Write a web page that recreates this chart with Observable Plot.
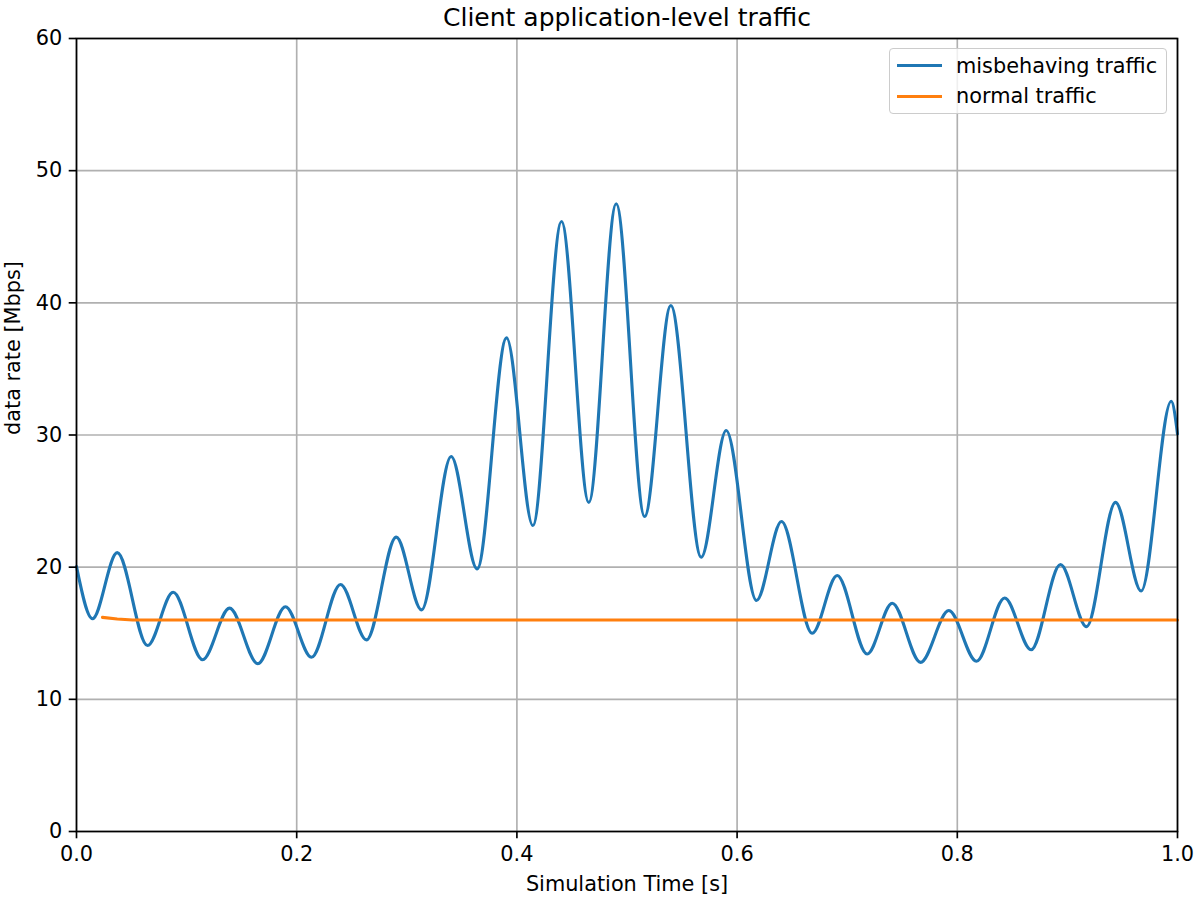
<!DOCTYPE html>
<html>
<head>
<meta charset="utf-8">
<script src="https://cdn.jsdelivr.net/npm/d3@7"></script>
<script src="https://cdn.jsdelivr.net/npm/@observablehq/plot@0.6"></script>
<style>
  html, body { margin: 0; padding: 0; background: #fff; }
  #wrap { position: relative; width: 1200px; height: 900px; font-family: "DejaVu Sans", sans-serif; }
  #legend { position: absolute; left: 889px; top: 48px; width: 278px; height: 66px;
    border: 1.5px solid #cccccc; border-radius: 4px; background: rgba(255,255,255,0.8); box-sizing: border-box; }
  .lg-line { position: absolute; left: 7px; width: 45px; height: 3.1px; }
  .lg-text { position: absolute; left: 66px; font-size: 20.83px; line-height: 24px; color: #000; white-space: nowrap; }
</style>
</head>
<body>
<div id="wrap"></div>
<script>
// ---- data ----
const title = "Client application-level traffic";
const xLabel = "Simulation Time [s]";
const yLabel = "data rate [Mbps]";
const seriesNames = ["misbehaving traffic", "normal traffic"];
const seriesColors = ["#1f77b4", "#ff7f0e"];

const xTicks = [0, 0.2, 0.4, 0.6, 0.8, 1.0];
const yTicks = [0, 10, 20, 30, 40, 50, 60];

// misbehaving traffic: local extrema
const misTime = [0, 0.0145, 0.037, 0.0645, 0.0878, 0.1145, 0.139, 0.1647, 0.1898, 0.2134,
  0.2398, 0.2634, 0.2904, 0.3134, 0.3403, 0.3639, 0.3906, 0.4145, 0.4405, 0.4653,
  0.4902, 0.516, 0.5398, 0.5674, 0.5901, 0.6176, 0.6403, 0.6682, 0.6909, 0.7181,
  0.7409, 0.7666, 0.7923, 0.8174, 0.843, 0.867, 0.8937, 0.9174, 0.9437, 0.967, 0.9943, 1.0];
const misRate = [20.05, 16.1, 21.1, 14.07, 18.1, 13.0, 16.9, 12.7, 17.0, 13.18,
  18.69, 14.5, 22.27, 16.77, 28.37, 19.87, 37.35, 23.15, 46.15, 24.9,
  47.5, 23.83, 39.8, 20.75, 30.34, 17.48, 23.45, 15.0, 19.37, 13.43,
  17.27, 12.8, 16.72, 12.88, 17.67, 13.75, 20.2, 15.5, 24.9, 18.2, 32.55, 30.08];

// normal traffic
const normTime = [0.0236, 0.037, 0.051, 1.0];
const normRate = [16.2, 16.08, 16.0, 16.0];

// ---- build tables ----
const mis = misTime.map((t, i) => ({t, v: misRate[i]}));
const norm = normTime.map((t, i) => ({t, v: normRate[i]}));

const FS = 20.83;

const chart = Plot.plot({
  width: 1200,
  height: 900,
  marginLeft: 76,
  marginRight: 23,
  marginTop: 38,
  marginBottom: 69,
  style: {fontFamily: "DejaVu Sans", fontSize: FS + "px", color: "#000", background: "#fff"},
  x: {domain: [0, 1]},
  y: {domain: [0, 60]},
  marks: [
    Plot.gridX(xTicks, {stroke: "#b0b0b0", strokeOpacity: 1, strokeWidth: 1.67}),
    Plot.gridY(yTicks, {stroke: "#b0b0b0", strokeOpacity: 1, strokeWidth: 1.67}),
    Plot.line(mis, {x: "t", y: "v", stroke: seriesColors[0], strokeWidth: 3.1, curve: "monotone-x"}),
    Plot.line(norm, {x: "t", y: "v", stroke: seriesColors[1], strokeWidth: 3.1}),
    Plot.frame({stroke: "#000", strokeWidth: 1.67}),
    Plot.axisX({ticks: xTicks, tickFormat: d3.format(".1f"), tickSize: 7.3, tickPadding: 7, strokeWidth: 1.67, label: null, fontSize: FS}),
    Plot.axisY({ticks: yTicks, tickFormat: d3.format("d"), tickSize: 7.3, tickPadding: 7, strokeWidth: 1.67, label: null, fontSize: FS}),
    Plot.text([title], {frameAnchor: "top", lineAnchor: "bottom", dy: -12.5, fontSize: 25, text: d => d}),
    Plot.text([xLabel], {frameAnchor: "bottom", lineAnchor: "bottom", dy: 59, fontSize: FS, text: d => d}),
    Plot.text([yLabel], {frameAnchor: "left", lineAnchor: "bottom", rotate: -90, dx: -57, fontSize: FS, text: d => d})
  ]
});

const wrap = document.getElementById("wrap");
wrap.appendChild(chart);

// legend
const legend = document.createElement("div");
legend.id = "legend";
seriesNames.forEach((name, i) => {
  const ln = document.createElement("div");
  ln.className = "lg-line";
  ln.style.top = (i === 0 ? 14.5 : 45.5) + "px";
  ln.style.background = seriesColors[i];
  const tx = document.createElement("div");
  tx.className = "lg-text";
  tx.style.top = (i === 0 ? 4.5 : 35) + "px";
  tx.textContent = name;
  legend.appendChild(ln);
  legend.appendChild(tx);
});
wrap.appendChild(legend);
</script>
</body>
</html>
